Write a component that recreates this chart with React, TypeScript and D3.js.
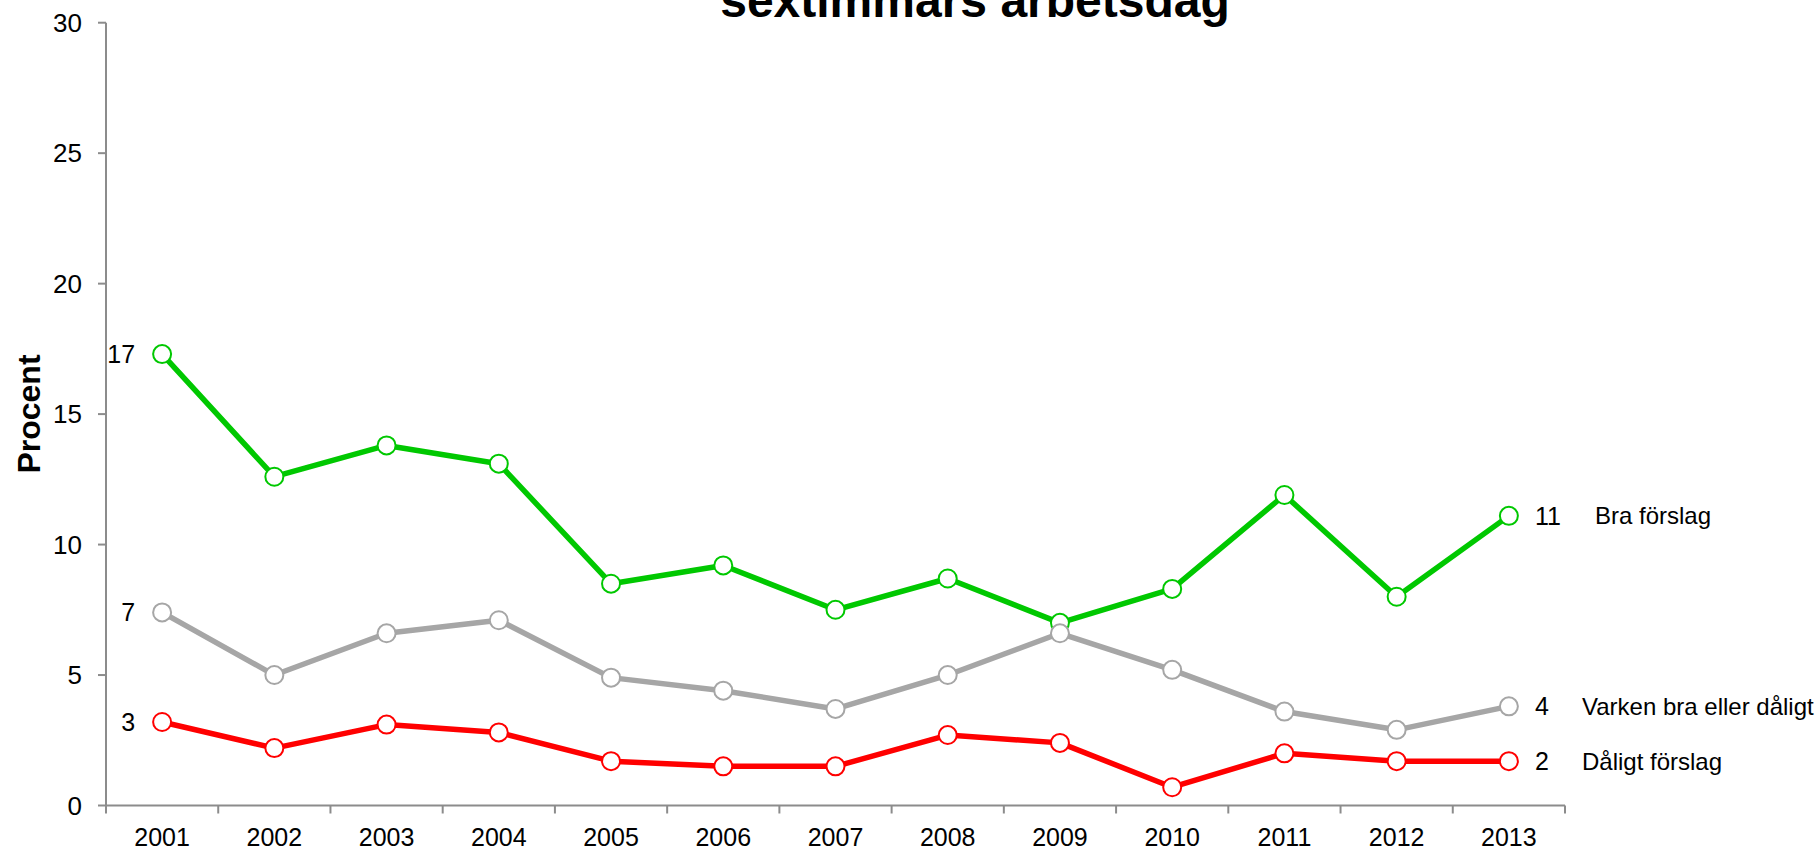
import React from "react";
import * as d3 from "d3";

const years = ["2001","2002","2003","2004","2005","2006","2007","2008","2009","2010","2011","2012","2013"];
const braForslag = [17.3, 12.6, 13.8, 13.1, 8.5, 9.2, 7.5, 8.7, 7.0, 8.3, 11.9, 8.0, 11.1];
const varken = [7.4, 5.0, 6.6, 7.1, 4.9, 4.4, 3.7, 5.0, 6.6, 5.2, 3.6, 2.9, 3.8];
const daligt = [3.2, 2.2, 3.1, 2.8, 1.7, 1.5, 1.5, 2.7, 2.4, 0.7, 2.0, 1.7, 1.7];
const yTicks = [0, 5, 10, 15, 20, 25, 30];
const seriesNames = ["Bra förslag", "Varken bra eller dåligt", "Dåligt förslag"];
const seriesColors = ["#00c800", "#a6a6a6", "#ff0000"];
const titleText = "sextimmars arbetsdag";
const yAxisTitle = "Procent";

export default function App() {
  const W = 1820, H = 851;
  const left = 106, right = 1565, top = 22.7, bottom = 805.5;
  const x = d3.scaleBand<string>().domain(years).range([left, right]);
  const y = d3.scaleLinear().domain([0, 30]).range([bottom, top]);
  const cx = (yr: string) => (x(yr) as number) + x.bandwidth() / 2;
  const line = d3.line<number>().x((_, i) => cx(years[i])).y((d) => y(d));
  const series = [braForslag, varken, daligt];
  const font = "'Liberation Sans', Arial, sans-serif";
  const axisColor = "#8c8c8c";
  const bounds = [...years.map((yr) => x(yr) as number), right];
  const last = years.length - 1;
  const fs = 25;

  return (
    <svg width={W} height={H} style={{ position: "absolute", left: 0, top: 0, background: "#fff" }} fontFamily={font}>
      <rect x={0} y={0} width={W} height={H} fill="#fff" />
      <text x={975} y={17} textAnchor="middle" fontSize={48} fontWeight="bold">{titleText}</text>
      {/* y axis */}
      <line x1={left} x2={left} y1={top} y2={bottom} stroke={axisColor} strokeWidth={2} />
      {yTicks.map((t) => (
        <g key={t}>
          <line x1={left - 8} x2={left} y1={y(t)} y2={y(t)} stroke={axisColor} strokeWidth={2} />
          <text x={82} y={y(t)} dy="0.35em" textAnchor="end" fontSize={26}>{t}</text>
        </g>
      ))}
      <text transform={`translate(40,414) rotate(-90)`} textAnchor="middle" fontSize={32} fontWeight="bold">{yAxisTitle}</text>
      {/* x axis */}
      <line x1={left} x2={right} y1={bottom} y2={bottom} stroke={axisColor} strokeWidth={2} />
      {bounds.map((b, i) => (
        <line key={i} x1={b} x2={b} y1={bottom} y2={bottom + 8} stroke={axisColor} strokeWidth={2} />
      ))}
      {years.map((yr) => (
        <text key={yr} x={cx(yr)} y={846} textAnchor="middle" fontSize={fs}>{yr}</text>
      ))}
      {/* series */}
      {series.map((s, si) => (
        <g key={si}>
          <path d={line(s) as string} fill="none" stroke={seriesColors[si]} strokeWidth={5.5} strokeLinejoin="round" />
          {s.map((v, i) => (
            <circle key={i} cx={cx(years[i])} cy={y(v)} r={9} fill="#fff" stroke={seriesColors[si]} strokeWidth={2} />
          ))}
          <text x={cx(years[0]) - 27} y={y(s[0])} dy="0.35em" textAnchor="end" fontSize={fs}>{Math.round(s[0])}</text>
          <text x={cx(years[last]) + 26} y={y(s[last])} dy="0.35em" textAnchor="start" fontSize={fs}>{Math.round(s[last])}</text>
          <text x={si === 0 ? 1595 : 1582} y={y(s[last])} dy="0.35em" textAnchor="start" fontSize={24}>{seriesNames[si]}</text>
        </g>
      ))}
    </svg>
  );
}
